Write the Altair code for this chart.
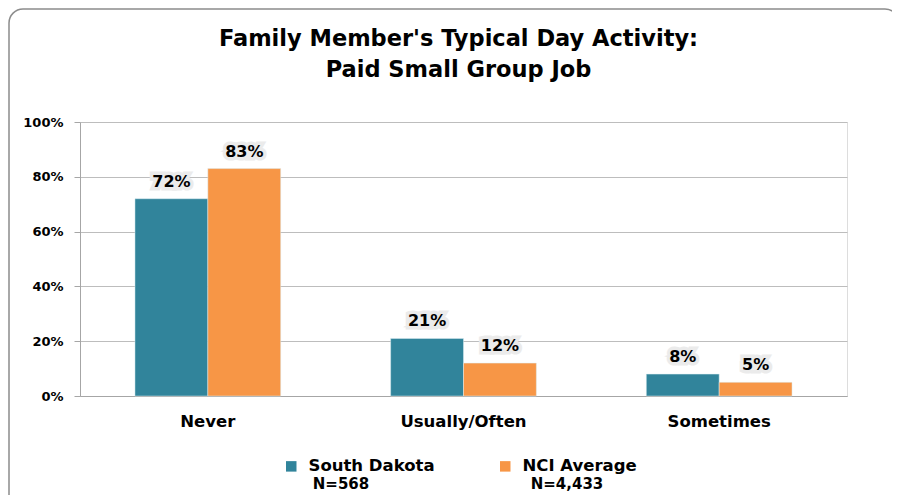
import altair as alt
import pandas as pd

categories = ["Never", "Usually/Often", "Sometimes"]
series = ["South Dakota", "NCI Average"]
south_dakota = [72, 21, 8]
nci_average = [83, 12, 5]
sample_sizes = ["N=568", "N=4,433"]
y_ticks = [0, 20, 40, 60, 80, 100]
colors = ["#31849B", "#F79646"]
title_lines = ["Family Member's Typical Day Activity:", "Paid Small Group Job"]

rows = []
for i, c in enumerate(categories):
    rows.append({"category": c, "series": series[0], "value": south_dakota[i]})
    rows.append({"category": c, "series": series[1], "value": nci_average[i]})
df = pd.DataFrame(rows)
df["label"] = df["value"].astype(str) + "%"

FONT = "DejaVu Sans"
W, H = 767, 274

x_enc = alt.X(
    "category:N", sort=categories,
    scale=alt.Scale(paddingInner=0.43, paddingOuter=0.215),
    axis=alt.Axis(title=None, labelAngle=0, labelFont=FONT, labelFontSize=16.5,
                  labelFontWeight="bold", labelColor="black", domainColor="#A6A6A6",
                  ticks=False, labelPadding=17),
)
xo_enc = alt.XOffset("series:N", sort=series, scale=alt.Scale(paddingInner=0, paddingOuter=0))
y_enc = alt.Y(
    "value:Q", scale=alt.Scale(domain=[0, 100]),
    axis=alt.Axis(title=None, values=y_ticks, labelExpr="datum.value + '%'",
                  labelFont=FONT, labelFontSize=13, labelFontWeight="bold",
                  labelColor="black", tickSize=6, tickColor="#A6A6A6",
                  gridColor="#BDBDBD", domainColor="#A6A6A6", labelPadding=11),
)

base = alt.Chart(df)

bars = base.mark_bar(stroke="#DDEEF2", strokeWidth=0.5).encode(
    x=x_enc, xOffset=xo_enc, y=y_enc,
    color=alt.Color(
        "series:N", sort=series,
        scale=alt.Scale(domain=series, range=colors),
        legend=alt.Legend(orient="none", legendX=203, legendY=336, direction="horizontal",
                          title=None, symbolType="square", symbolSize=110,
                          symbolStrokeWidth=0, labelFont=FONT, labelFontSize=16.5,
                          labelFontWeight="bold", labelColor="black", columnPadding=62,
                          labelOffset=9),
    ),
)

halo = base.mark_text(dy=-12, baseline="alphabetic", font=FONT, fontSize=16, fontWeight="bold",
                      color="#EBEBEB", stroke="#EBEBEB", strokeWidth=7).encode(
    x=x_enc, xOffset=xo_enc, y=y_enc, text="label:N")
labels = base.mark_text(dy=-12, baseline="alphabetic", font=FONT, fontSize=16, fontWeight="bold",
                        color="black").encode(
    x=x_enc, xOffset=xo_enc, y=y_enc, text="label:N")


def fixed_text(txt, xpos, ypos, size):
    return alt.Chart(pd.DataFrame({"t": [txt]})).mark_text(
        font=FONT, fontSize=size, fontWeight="bold", color="black", baseline="alphabetic"
    ).encode(x=alt.value(xpos), y=alt.value(ypos), text="t:N")


t1 = fixed_text(title_lines[0], 378.5, -76, 22.5)
t2 = fixed_text(title_lines[1], 378.5, -45, 22.5)
n1 = fixed_text(sample_sizes[0], 261, 367, 15)
n2 = fixed_text(sample_sizes[1], 487, 367, 15)

border = alt.Chart(pd.DataFrame({"a": [0]})).mark_rect(
    fill=None, stroke="#8C8C8C", strokeWidth=1.5, cornerRadius=14
).encode(x=alt.value(-71), x2=alt.value(819), y=alt.value(-113), y2=alt.value(395))

chart = alt.layer(bars, halo, labels, t1, t2, n1, n2, border).properties(
    width=W, height=H,
    autosize=alt.AutoSizeParams(type="none"),
    padding={"left": 72, "top": 114, "right": 45, "bottom": 99},
).configure_view(fill="#EBEBEB", strokeWidth=0).configure(background="white")

chart.save("out.html", embed_options={"renderer": "svg", "actions": False})
